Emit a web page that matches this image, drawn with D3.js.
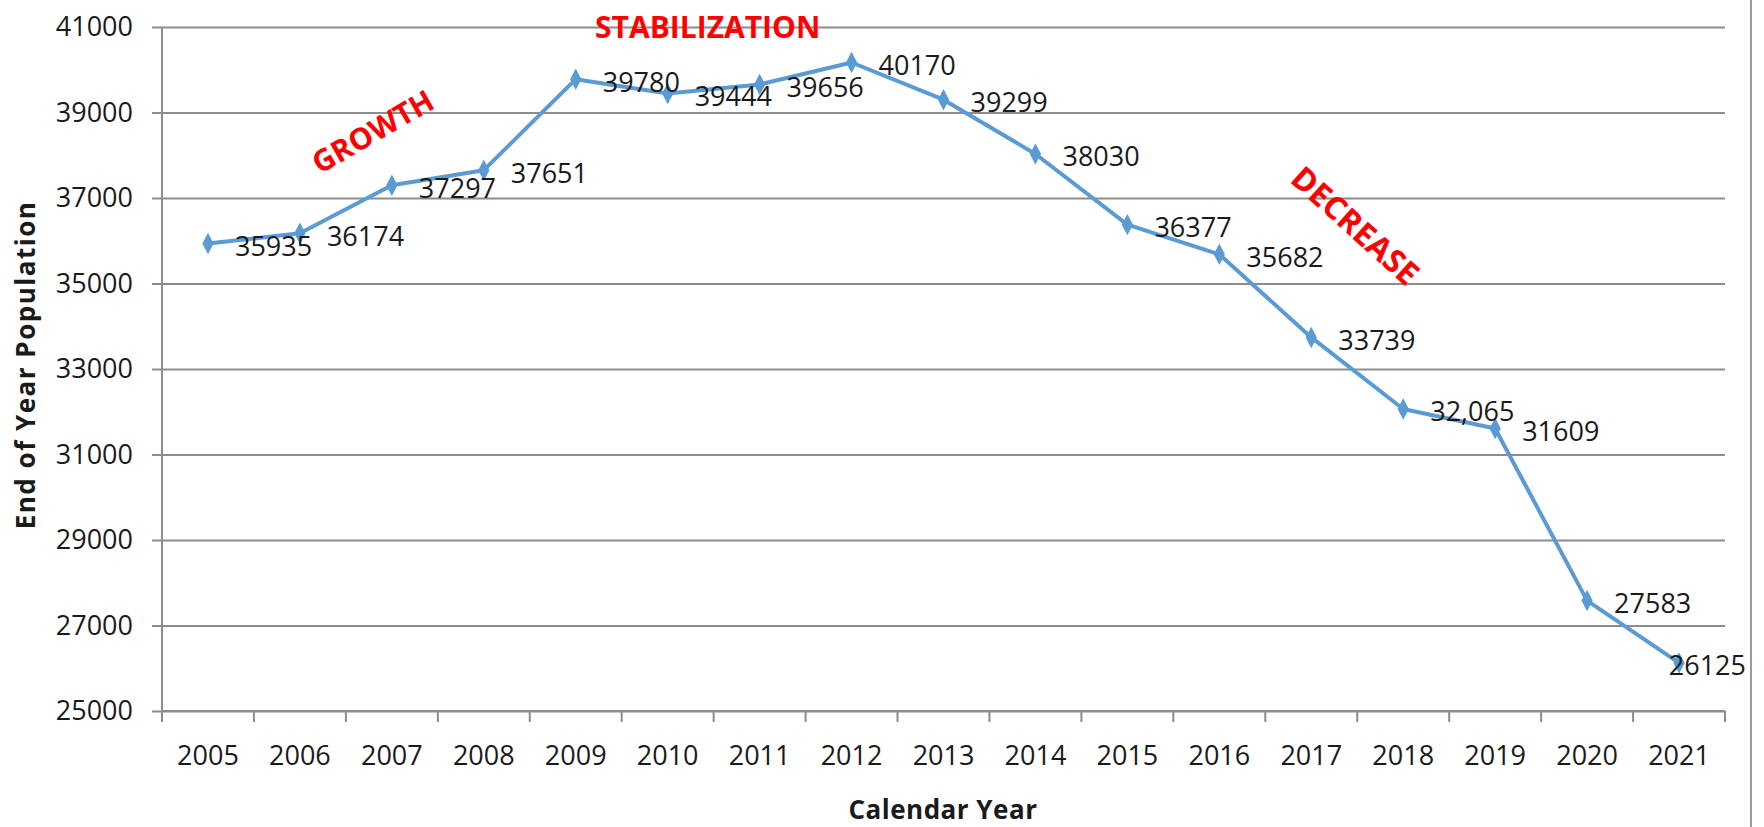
<!DOCTYPE html>
<html>
<head>
<meta charset="utf-8">
<script src="https://cdn.jsdelivr.net/npm/d3@7"></script>
<style>
	body { margin: 0; background: #fff; }
	svg { display: block; font-family: 'Open Sans', sans-serif; }
	.axis path, .axis line { stroke: #8c8c8c; stroke-width: 2; }
	.axis text { fill: #1a1a1a; font-size: 27px; font-family: 'Open Sans', sans-serif; }
	.data-label { fill: #1a1a1a; font-size: 27px; font-family: 'Open Sans', sans-serif; }
	.phase { fill: #ff0000; font-weight: bold; font-family: 'Open Sans', sans-serif; }
	.axis-title { fill: #1a1a1a; font-weight: bold; font-family: 'Open Sans', sans-serif; }
</style>
</head>
<body>
<div id="chart"></div>
<script>
const years = ['2005', '2006', '2007', '2008', '2009', '2010', '2011', '2012', '2013',
	'2014', '2015', '2016', '2017', '2018', '2019', '2020', '2021'];
const population = [35935, 36174, 37297, 37651, 39780, 39444, 39656, 40170, 39299,
	38030, 36377, 35682, 33739, 32065, 31609, 27583, 26125];
const labels = ['35935', '36174', '37297', '37651', '39780', '39444', '39656', '40170', '39299',
	'38030', '36377', '35682', '33739', '32,065', '31609', '27583', '26125'];
const yTicks = [25000, 27000, 29000, 31000, 33000, 35000, 37000, 39000, 41000];

// phase annotations: anchored at a year / value, with rotation
const phases = [
	{ text: 'GROWTH', year: '2007', value: 38550, angle: -30, dx: -19, size: 30 },
	{ text: 'STABILIZATION', year: '2010', value: 40990, angle: 0, dx: 40, size: 30 },
	{ text: 'DECREASE', year: '2018', value: 36350, angle: 42, dx: -48, size: 32 }
];

const width = 1764,
	height = 827,
	mLeft = 162,
	mRight = 1725,
	mTop = 27,
	mBottom = 711;

const svg = d3.select('#chart').append('svg')
	.attr('width', width)
	.attr('height', height);

const x = d3.scaleBand()
	.domain(years)
	.range([mLeft, mRight]);

const y = d3.scaleLinear()
	.domain([25000, 41000])
	.range([mBottom, mTop]);

// gridlines + y axis
svg.append('g')
	.attr('class', 'axis y-grid')
	.attr('transform', `translate(${mRight}, 0)`)
	.call(d3.axisLeft(y)
		.tickValues(yTicks)
		.tickSize(mRight - mLeft + 10)
		.tickFormat(''))
	.call(g => g.select('.domain').remove());

svg.append('g')
	.attr('class', 'axis y-axis')
	.attr('transform', `translate(${mLeft}, 0)`)
	.call(d3.axisLeft(y)
		.tickValues(yTicks)
		.tickSize(0)
		.tickPadding(29)
		.tickFormat(d3.format('d')))
	.call(g => g.select('.domain').attr('d', `M0,${mTop}V${mBottom}`));

// x axis
const xAxis = svg.append('g')
	.attr('class', 'axis x-axis')
	.attr('transform', `translate(0, ${mBottom})`)
	.call(d3.axisBottom(x)
		.tickSize(0)
		.tickPadding(35));

xAxis.select('.domain').attr('d', `M${mLeft},0H${mRight}`);
xAxis.selectAll('.boundary')
	.data(d3.range(years.length + 1))
	.enter()
	.append('line')
	.attr('x1', (d) => mLeft + d * x.step())
	.attr('x2', (d) => mLeft + d * x.step())
	.attr('y1', 0)
	.attr('y2', 11);

// right border of the chart frame
svg.append('line')
	.attr('x1', 1751)
	.attr('x2', 1751)
	.attr('y1', 0)
	.attr('y2', height)
	.attr('stroke', '#9a9a9a')
	.attr('stroke-width', 2);

const cx = (d, i) => x(years[i]) + x.bandwidth() / 2;

const line = d3.line()
	.x((d, i) => cx(d, i))
	.y((d) => y(d));

svg.append('path')
	.datum(population)
	.attr('fill', 'none')
	.attr('stroke', '#5b9bd5')
	.attr('stroke-width', 4)
	.attr('stroke-linejoin', 'round')
	.attr('d', line);

svg.selectAll('.marker')
	.data(population)
	.enter()
	.append('path')
	.attr('class', 'marker')
	.attr('fill', '#5b9bd5')
	.attr('d', d3.symbol().type(d3.symbolDiamond).size(110))
	.attr('transform', (d, i) => `translate(${cx(d, i)}, ${y(d)}) scale(1, 1.1)`);

// value labels to the right of each point, kept inside the frame
svg.selectAll('.data-label')
	.data(population)
	.enter()
	.append('text')
	.attr('class', 'data-label')
	.attr('dy', '0.35em')
	.attr('y', (d) => y(d) + 3)
	.text((d, i) => labels[i])
	.attr('x', function(d, i) {
		let w = this.getComputedTextLength();
		return Math.min(cx(d, i) + 27, 1746 - w);
	});

svg.selectAll('.phase')
	.data(phases)
	.enter()
	.append('text')
	.attr('class', 'phase')
	.attr('text-anchor', 'middle')
	.attr('dy', '0.35em')
	.style('font-size', (d) => d.size + 'px')
	.attr('transform', (d) => `translate(${x(d.year) + x.bandwidth() / 2 + d.dx}, ${y(d.value)}) rotate(${d.angle})`)
	.text((d) => d.text);

// axis titles
svg.append('text')
	.attr('class', 'axis-title')
	.attr('text-anchor', 'middle')
	.style('font-size', '26px')
	.style('letter-spacing', '0.5px')
	.attr('x', 943)
	.attr('y', 819)
	.text('Calendar Year');

svg.append('text')
	.attr('class', 'axis-title')
	.attr('text-anchor', 'middle')
	.style('font-size', '26px')
	.style('letter-spacing', '1.5px')
	.attr('transform', `translate(35, 365) rotate(-90)`)
	.text('End of Year Population');
</script>
</body>
</html>
